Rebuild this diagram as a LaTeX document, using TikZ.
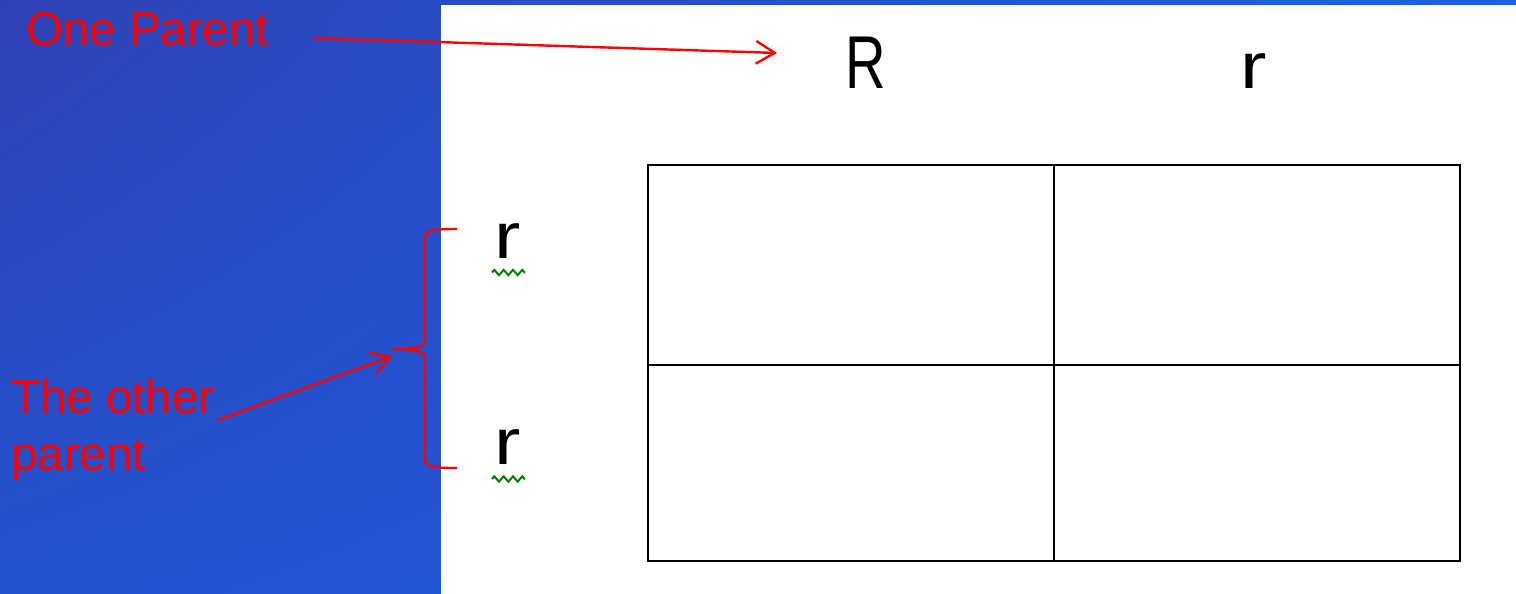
\documentclass[tikz,border=0pt]{standalone}
\usepackage{fontspec}
\setmainfont{Liberation Sans}
\usetikzlibrary{arrows.meta,decorations.pathmorphing,shadings}
\definecolor{bgUL}{RGB}{46,66,180}
\definecolor{bgUR}{RGB}{26,98,232}
\definecolor{bgLL}{RGB}{36,82,208}
\definecolor{bgLR}{RGB}{30,92,226}
\definecolor{squiggle}{RGB}{0,128,0}
\tikzset{
  note/.style={text=red, font=\fontsize{35.6}{42}\selectfont, inner sep=0pt, anchor=base west},
  allele/.style={font=\fontsize{54}{60}\selectfont, inner sep=0pt, anchor=base},
  pointer/.style={red, line width=1.8pt,
    -{Straight Barb[length=14pt,width=17pt,line width=1.8pt]}},
  bracket/.style={red, line width=1.8pt},
  grid/.style={black, line width=2.2pt},
  spell/.style={squiggle, line width=1.5pt, decorate,
    decoration={zigzag, segment length=7pt, amplitude=2pt}},
}
\begin{document}
\begin{tikzpicture}[x=0.75pt, y=-0.75pt]
  \useasboundingbox (0,0) rectangle (1516,593);
  % slide background and white panel
  \shade[upper left=bgUL, upper right=bgUR, lower left=bgLL, lower right=bgLR]
    (0,0) rectangle (1516,593);
  \fill[white] (441,5) rectangle (1518,596);

  % gametes of the first parent
  \node[allele] (topR) at (866,88) {\scalebox{0.78}[1.04]{R}};
  \node[allele] (topr) at (1254,88) {\scalebox{1.1}[0.9]{r}};

  % gametes of the second parent
  \node[allele] (leftr1) at (508,258) {\scalebox{1.1}[0.9]{r}};
  \node[allele] (leftr2) at (508,464) {\scalebox{1.1}[0.9]{r}};
  \draw[spell] (492,272.5) -- (525,272.5);
  \draw[spell] (492,479) -- (525,479);

  % Punnett square
  \coordinate (sqNW) at (648,165);
  \coordinate (sqSE) at (1460,561);
  \draw[grid] (sqNW) rectangle (sqSE);
  \draw[grid] (1054,165) -- (1054,561);
  \draw[grid] (648,365) -- (1460,365);

  % labels
  \node[note] (oneparent) at (26,45) {One Parent};
  \node[note] (other1) at (11,413) {The other};
  \node[note] (other2) at (11,470) {parent};

  % brace grouping the left gametes
  \draw[bracket] (457,229) .. controls (433,229) and (425,230) .. (425,238)
    -- (425,341) .. controls (425,347) and (412,349) .. (392,349)
    .. controls (412,349) and (425,351) .. (425,357)
    -- (425,459) .. controls (425,467) and (433,468) .. (457,468);

  % pointers
  \coordinate (p1start) at (313,38);
  \coordinate (p1end) at (777,53);
  \coordinate (p2start) at (218,420);
  \coordinate (p2end) at (392,356);
  \draw[pointer] (p1start) -- (p1end);
  \draw[pointer] (p2start) -- (p2end);
\end{tikzpicture}
\end{document}
